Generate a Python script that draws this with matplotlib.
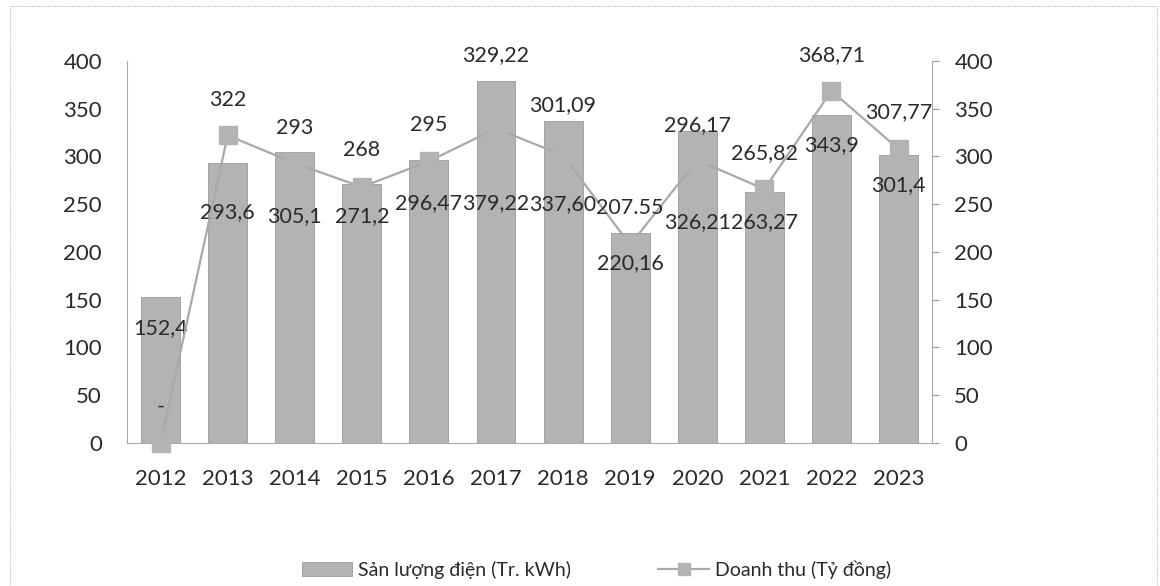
import matplotlib
matplotlib.use("Agg")
import matplotlib.pyplot as plt
from matplotlib.patches import Rectangle

# data
years = ['2012', '2013', '2014', '2015', '2016', '2017', '2018', '2019', '2020', '2021', '2022', '2023']
san_luong = [152.4, 293.6, 305.1, 271.2, 296.47, 379.22, 337.60, 220.16, 326.21, 263.27, 343.9, 301.4]
doanh_thu = [0, 322, 293, 268, 295, 329.22, 301.09, 207.55, 296.17, 265.82, 368.71, 307.77]
bar_labels = ['152,4', '293,6', '305,1', '271,2', '296,47', '379,22', '337,60', '220,16', '326,21', '263,27', '343,9', '301,4']
line_labels = ['-', '322', '293', '268', '295', '329,22', '301,09', '207.55', '296,17', '265,82', '368,71', '307,77']

# label offsets (data units) as placed in the original
bar_off = [-32, -52, -68, -34, -45, -128, -87, -32, -95, -32, -32, -31]
line_off = [38, 37, 37, 39, 38, 77, 53, 38, 37, 38, 37, 39]

plt.rcParams['font.family'] = ['Lato', 'DejaVu Sans']
txt = '#2a2a2a'
bar_c = '#b3b3b3'
line_c = '#a9a9a9'

fig = plt.figure(figsize=(11.6, 5.86), dpi=100)
ax = fig.add_axes([0.1095, 0.244, 0.694, 0.652])
ax2 = ax.twinx()

x = range(len(years))
ax.bar(x, san_luong, width=0.58, color=bar_c, edgecolor='#9a9a9a', linewidth=0.6,
       label='Sản lượng điện (Tr. kWh)', zorder=2)
ax2.plot(x, doanh_thu, color=line_c, lw=1.6, marker='s', ms=13, mfc=bar_c, mec=bar_c,
         label='Doanh thu (Tỷ đồng)', clip_on=False, zorder=3)

for i in x:
    ax.text(i, san_luong[i] + bar_off[i], bar_labels[i], ha='center', va='center',
            fontsize=15.5, color=txt, zorder=5)
    ax2.text(i, doanh_thu[i] + line_off[i], line_labels[i], ha='center', va='center',
             fontsize=15.5, color=txt, zorder=5)

for a in (ax, ax2):
    a.set_ylim(0, 400)
    a.set_yticks(range(0, 401, 50))
    a.tick_params(axis='y', labelsize=16, labelcolor=txt)
    for s in a.spines.values():
        s.set_visible(False)
ax.set_xlim(-0.5, 11.5)
ax.set_xticks(list(x))
ax.set_xticklabels(years)
ax.tick_params(axis='x', length=0, pad=19, labelsize=16, labelcolor=txt)
ax.tick_params(axis='y', length=0, pad=18)
ax2.tick_params(axis='y', length=5, width=0.8, color='#999999', pad=11)
ax.spines['left'].set_visible(True)
ax.spines['left'].set_color('#aaaaaa')
ax.spines['left'].set_linewidth(0.8)
ax.spines['bottom'].set_visible(True)
ax.spines['bottom'].set_color('#aaaaaa')
ax.spines['bottom'].set_linewidth(0.8)
ax2.spines['right'].set_visible(True)
ax2.spines['right'].set_color('#aaaaaa')
ax2.spines['right'].set_linewidth(0.8)

h1, l1 = ax.get_legend_handles_labels()
h2, l2 = ax2.get_legend_handles_labels()
leg = fig.legend(h1 + h2, l1 + l2, loc='center', bbox_to_anchor=(0.514, 0.028), ncol=2,
                 frameon=False, fontsize=14, handlelength=2.6, columnspacing=4.5,
                 handletextpad=0.3, labelcolor=txt)
leg.legend_handles[1].set_markersize(9)

fig.add_artist(Rectangle((0.009, 0.0), 0.988, 0.99, transform=fig.transFigure, fill=False,
                         edgecolor='#bbbbbb', linewidth=0.8, linestyle=(0, (1, 1))))

fig.savefig('out.png', dpi=100)
